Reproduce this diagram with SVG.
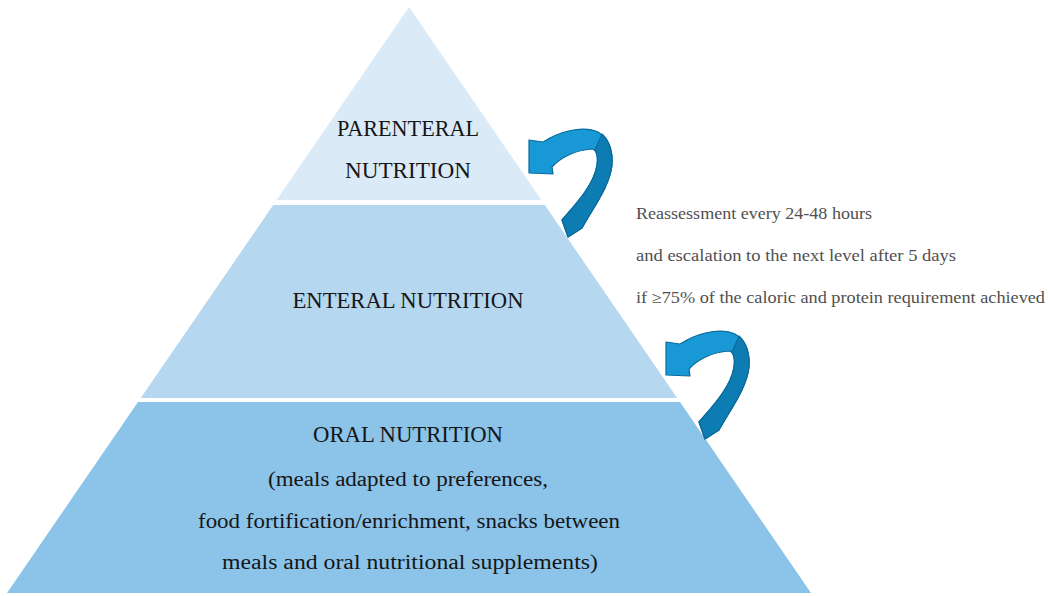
<svg xmlns="http://www.w3.org/2000/svg" width="1048" height="596" viewBox="0 0 1048 596">
<style>
.t{font-family:"Liberation Serif","Times New Roman",serif;fill:#161616;text-anchor:middle}
.h{font-size:23px}
.s{font-size:20px}
.n{font-family:"Liberation Serif","Times New Roman",serif;font-size:16px;fill:#505050}
.light{fill:#1898d5;stroke:#0b6a9c;stroke-width:1.2;stroke-linejoin:round}
.dark{fill:#0d7cb3;stroke:#0b6a9c;stroke-width:1.2;stroke-linejoin:round}
</style>
<defs>
<g id="curl">
<path class="light" d="M568,237 L582,228 C595,205 610,185 612,165 C613,150 608,138 598,132 C585,126 565,130 550,138 L543,142 L529,140 L529,173 L553,174 L552,167 C560,158 575,150 592,149 C597,150 598,156 597,165 C594,185 575,205 562,220 Z"/>
<path class="dark" d="M568,237 L582,228 C595,205 610,185 612,165 C613,152 609,140 602,134 L595,150 C598,155 598,160 597,165 C594,185 575,205 562,220 Z"/>
</g>
</defs>
<rect width="1048" height="596" fill="#ffffff"/>
<g id="parenteral">
<path d="M409,7 L541.4,200 L276.6,200 Z" fill="#daeaf7"/>
<text class="t h" x="408" y="136" textLength="142" lengthAdjust="spacingAndGlyphs">PARENTERAL</text>
<text class="t h" x="408" y="178" textLength="126" lengthAdjust="spacingAndGlyphs">NUTRITION</text>
</g>
<g id="enteral">
<path d="M273.2,205 L544.8,205 L677.2,398 L140.8,398 Z" fill="#b6d7f0"/>
<text class="t h" x="408" y="308" textLength="231" lengthAdjust="spacingAndGlyphs">ENTERAL NUTRITION</text>
</g>
<g id="oral">
<path d="M138,402 L680,402 L811,593 L7,593 Z" fill="#8bc3e9"/>
<text class="t h" x="408" y="442" textLength="190" lengthAdjust="spacingAndGlyphs">ORAL NUTRITION</text>
<text class="t s" x="408" y="486" textLength="280" lengthAdjust="spacingAndGlyphs">(meals adapted to preferences,</text>
<text class="t s" x="409" y="528" textLength="422" lengthAdjust="spacingAndGlyphs">food fortification/enrichment, snacks between</text>
<text class="t s" x="410" y="569" textLength="376" lengthAdjust="spacingAndGlyphs">meals and oral nutritional supplements)</text>
</g>
<g id="note">
<text class="n" x="636" y="219" textLength="236" lengthAdjust="spacingAndGlyphs">Reassessment every 24-48 hours</text>
<text class="n" x="636" y="261" textLength="320" lengthAdjust="spacingAndGlyphs">and escalation to the next level after 5 days</text>
<text class="n" x="636" y="303" textLength="409" lengthAdjust="spacingAndGlyphs">if ≥75% of the caloric and protein requirement achieved</text>
</g>
<g id="connectors">
<use href="#curl"/>
<use href="#curl" transform="translate(137,202)"/>
</g>
</svg>
